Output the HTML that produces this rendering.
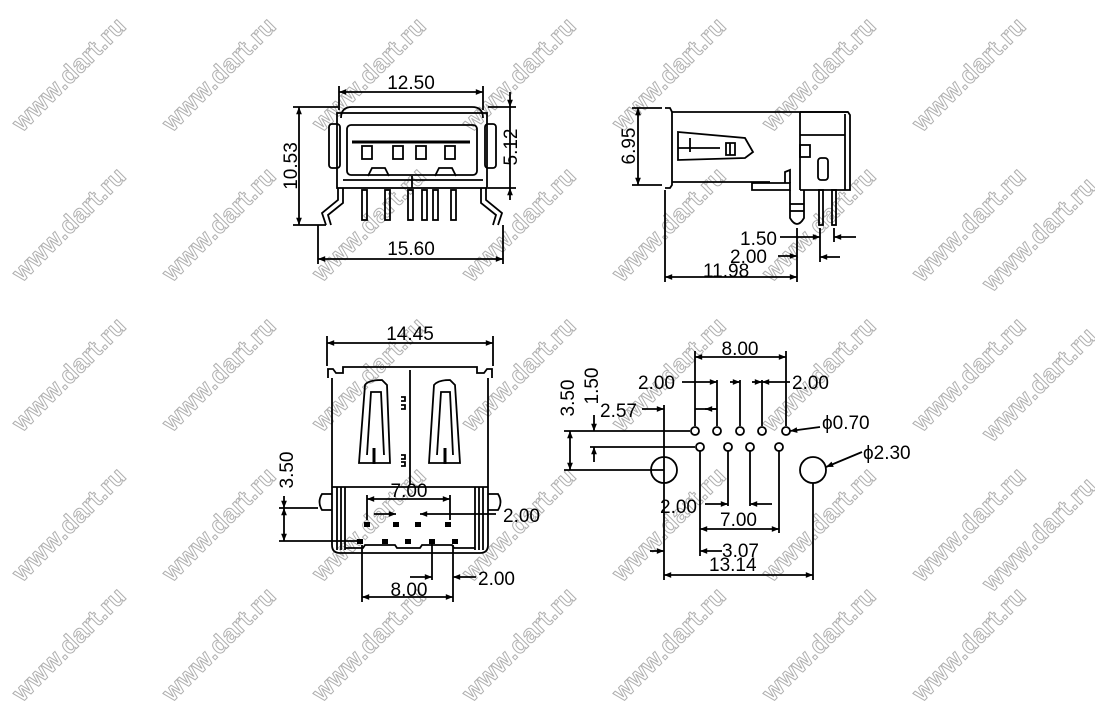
<!DOCTYPE html>
<html><head><meta charset="utf-8"><style>
html,body{margin:0;padding:0;background:#fff;width:1095px;height:701px;overflow:hidden;}
svg{display:block;overflow:hidden;}
.wm{font-family:"Liberation Sans",sans-serif;font-size:25px;font-weight:bold;fill:#fff;stroke:#b0b0b0;stroke-width:1;letter-spacing:0.5px;}
.t{font-family:"Liberation Sans",sans-serif;font-size:19px;fill:#000;}
</style></head><body>
<svg width="1095" height="701" viewBox="0 0 1095 701" xmlns="http://www.w3.org/2000/svg">
<defs>
<marker id="a" viewBox="0 0 10 10" refX="10" refY="5" markerWidth="6" markerHeight="4" orient="auto-start-reverse"><path d="M0,1 L10,5 L0,9 z" fill="#000"/></marker>
</defs>
<g class="wm" text-anchor="middle">
<text transform="translate(75,80) rotate(-45)">www.dart.ru</text>
<text transform="translate(225,80) rotate(-45)">www.dart.ru</text>
<text transform="translate(375,80) rotate(-45)">www.dart.ru</text>
<text transform="translate(525,80) rotate(-45)">www.dart.ru</text>
<text transform="translate(675,80) rotate(-45)">www.dart.ru</text>
<text transform="translate(825,80) rotate(-45)">www.dart.ru</text>
<text transform="translate(975,80) rotate(-45)">www.dart.ru</text>
<text transform="translate(75,230) rotate(-45)">www.dart.ru</text>
<text transform="translate(225,230) rotate(-45)">www.dart.ru</text>
<text transform="translate(375,230) rotate(-45)">www.dart.ru</text>
<text transform="translate(525,230) rotate(-45)">www.dart.ru</text>
<text transform="translate(675,230) rotate(-45)">www.dart.ru</text>
<text transform="translate(825,230) rotate(-45)">www.dart.ru</text>
<text transform="translate(975,230) rotate(-45)">www.dart.ru</text>
<text transform="translate(1045,240) rotate(-45)">www.dart.ru</text>
<text transform="translate(75,380) rotate(-45)">www.dart.ru</text>
<text transform="translate(225,380) rotate(-45)">www.dart.ru</text>
<text transform="translate(375,380) rotate(-45)">www.dart.ru</text>
<text transform="translate(525,380) rotate(-45)">www.dart.ru</text>
<text transform="translate(675,380) rotate(-45)">www.dart.ru</text>
<text transform="translate(825,380) rotate(-45)">www.dart.ru</text>
<text transform="translate(975,380) rotate(-45)">www.dart.ru</text>
<text transform="translate(1045,390) rotate(-45)">www.dart.ru</text>
<text transform="translate(75,530) rotate(-45)">www.dart.ru</text>
<text transform="translate(225,530) rotate(-45)">www.dart.ru</text>
<text transform="translate(375,530) rotate(-45)">www.dart.ru</text>
<text transform="translate(525,530) rotate(-45)">www.dart.ru</text>
<text transform="translate(675,530) rotate(-45)">www.dart.ru</text>
<text transform="translate(825,530) rotate(-45)">www.dart.ru</text>
<text transform="translate(975,530) rotate(-45)">www.dart.ru</text>
<text transform="translate(1045,540) rotate(-45)">www.dart.ru</text>
<text transform="translate(75,650) rotate(-45)">www.dart.ru</text>
<text transform="translate(225,650) rotate(-45)">www.dart.ru</text>
<text transform="translate(375,650) rotate(-45)">www.dart.ru</text>
<text transform="translate(525,650) rotate(-45)">www.dart.ru</text>
<text transform="translate(675,650) rotate(-45)">www.dart.ru</text>
<text transform="translate(825,650) rotate(-45)">www.dart.ru</text>
<text transform="translate(975,650) rotate(-45)">www.dart.ru</text>
</g>

<g fill="none" stroke="#000" stroke-width="1.8">
<line x1="339" y1="86" x2="339" y2="110"/><line x1="483" y1="86" x2="483" y2="110"/>
<line x1="339" y1="92" x2="483" y2="92" marker-start="url(#a)" marker-end="url(#a)"/>
<path d="M341,118 Q341,107 352,107 L472,107 Q483,107 483,118"/>
<rect x="337" y="113" width="150" height="75"/>
<rect x="329" y="124" width="11" height="44" rx="3"/>
<rect x="485" y="124" width="11" height="44" rx="3"/>
<rect x="347" y="125" width="130" height="50" rx="4"/>
<path d="M352,142 L470,142" stroke-width="3"/>
<rect x="362" y="146" width="10" height="13"/><rect x="393" y="146" width="10" height="13"/>
<rect x="416" y="146" width="10" height="13"/><rect x="445" y="146" width="10" height="13"/>
<path d="M368,176 L372,168 L385,168 L389,176"/><path d="M435,176 L439,168 L452,168 L456,176"/>
<line x1="343" y1="180" x2="483" y2="180"/>
<line x1="412" y1="176" x2="412" y2="188"/>
<rect x="362" y="190" width="5" height="30"/><rect x="385" y="190" width="5" height="30"/>
<rect x="408" y="190" width="5" height="30"/><rect x="422" y="190" width="5" height="30"/>
<rect x="433" y="190" width="5" height="30"/><rect x="451" y="190" width="5" height="30"/>
<path d="M338,188 L338,200 L322,213 L326,225"/><path d="M343,188 L343,203 L328,215 L331,225"/>
<path d="M486,188 L486,200 L502,213 L498,225"/><path d="M481,188 L481,203 L496,215 L493,225"/>
<line x1="293" y1="107" x2="338" y2="107"/><line x1="293" y1="225" x2="326" y2="225"/>
<line x1="299" y1="107" x2="299" y2="225" marker-start="url(#a)" marker-end="url(#a)"/>
<line x1="488" y1="107" x2="516" y2="107"/><line x1="488" y1="188" x2="516" y2="188"/>
<line x1="510" y1="92" x2="510" y2="107" marker-end="url(#a)"/><line x1="510" y1="107" x2="510" y2="188"/>
<line x1="510" y1="188" x2="510" y2="200" marker-start="url(#a)"/>
<line x1="318" y1="225" x2="318" y2="264"/><line x1="503" y1="225" x2="503" y2="264"/>
<line x1="318" y1="259" x2="503" y2="259" marker-start="url(#a)" marker-end="url(#a)"/>

<line x1="632" y1="108" x2="662" y2="108"/><line x1="632" y1="185" x2="662" y2="185"/>
<line x1="638" y1="108" x2="638" y2="185" marker-start="url(#a)" marker-end="url(#a)"/>
<path d="M665,108 L670,108 L672,112 L672,185 L670,188 L665,188"/>
<line x1="672" y1="112" x2="848" y2="112"/><line x1="672" y1="182" x2="770" y2="182"/>
<path d="M800,112 L848,112 L850,115 L850,190 L800,190"/>
<line x1="800" y1="112" x2="800" y2="190"/><line x1="800" y1="135" x2="845" y2="135"/>
<line x1="845" y1="114" x2="845" y2="190"/>
<rect x="800" y="145" width="10" height="12"/>
<rect x="818" y="158" width="10" height="22" rx="3"/>
<path d="M678,132 L745,138 L753,152 L745,158 L678,160 Z"/>
<line x1="678" y1="148" x2="720" y2="148"/><line x1="690" y1="138" x2="690" y2="152"/>
<path d="M726,143 L735,143 L735,155 L726,155 Z M730,143 L730,155"/>
<path d="M752,190 L790,190 L790,183 L752,183 Z"/>
<path d="M785,183 L785,172 L790,170 L790,183"/>
<path d="M790,190 L790,218 Q797,230 804,218 L804,190"/>
<line x1="790" y1="204" x2="804" y2="204"/><line x1="790" y1="211" x2="804" y2="211"/>
<rect x="819" y="190" width="4" height="35"/><rect x="832" y="190" width="4" height="35"/>
<line x1="665" y1="190" x2="665" y2="282"/><line x1="797" y1="228" x2="797" y2="282"/>
<line x1="665" y1="277" x2="797" y2="277" marker-start="url(#a)" marker-end="url(#a)"/>
<line x1="820" y1="228" x2="820" y2="262"/><line x1="834" y1="228" x2="834" y2="242"/>
<line x1="780" y1="237" x2="820" y2="237" marker-end="url(#a)"/>
<line x1="856" y1="237" x2="834" y2="237" marker-end="url(#a)"/>
<line x1="778" y1="256" x2="797" y2="256" marker-end="url(#a)"/>
<line x1="840" y1="257" x2="820" y2="257" marker-end="url(#a)"/>

<line x1="327" y1="336" x2="327" y2="366"/><line x1="493" y1="336" x2="493" y2="366"/>
<line x1="327" y1="343" x2="493" y2="343" marker-start="url(#a)" marker-end="url(#a)"/>
<path d="M328,378 L328,369 L333,369 L336,373 L343,373 L343,367 L477,367 L477,373 L484,373 L487,369 L492,369 L492,378"/>
<path d="M332,378 L332,545 Q332,553 340,553 L480,553 Q488,553 488,545 L488,378"/>
<line x1="410" y1="370" x2="410" y2="485"/>
<path d="M401,397 h4 v4 h-4 M401,405 h4 v4 h-4 M401,455 h4 v4 h-4 M401,462 h4 v4 h-4"/>
<path d="M359,463 L365,385 Q368,380 382,380 L387,385 L390,463 Z"/>
<path d="M367,455 L371,392 L381,392 L384,455"/>
<line x1="374" y1="448" x2="374" y2="464" stroke-width="3"/>
<path d="M429,463 L434,385 Q438,380 450,380 L455,385 L460,463 Z"/>
<path d="M437,455 L441,392 L450,392 L453,455"/>
<line x1="445" y1="448" x2="445" y2="464" stroke-width="3"/>
<line x1="332" y1="487" x2="488" y2="487"/>
<line x1="337" y1="487" x2="337" y2="550"/><line x1="341" y1="487" x2="341" y2="550"/><line x1="345" y1="487" x2="345" y2="550"/>
<line x1="475" y1="487" x2="475" y2="550"/><line x1="479" y1="487" x2="479" y2="550"/><line x1="483" y1="487" x2="483" y2="550"/>
<path d="M332,494 L322,494 Q317,502 322,510 L332,510"/>
<path d="M488,494 L498,494 Q503,502 498,510 L488,510"/>
<path d="M345,548 L363,548 L365,545 L395,545 L397,548 L420,548 L422,545 L452,545 L454,548 L475,548"/>
<line x1="279" y1="508" x2="318" y2="508"/><line x1="279" y1="541" x2="360" y2="541"/>
<line x1="284" y1="496" x2="284" y2="508" marker-end="url(#a)"/>
<line x1="284" y1="508" x2="284" y2="541" marker-start="url(#a)" marker-end="url(#a)"/>
<line x1="367" y1="495" x2="367" y2="520"/><line x1="450" y1="495" x2="450" y2="520"/>
<line x1="367" y1="499" x2="450" y2="499" marker-start="url(#a)" marker-end="url(#a)"/>
<line x1="374" y1="514" x2="396" y2="514" marker-end="url(#a)"/>
<line x1="496" y1="514" x2="420" y2="514" marker-end="url(#a)"/>
<line x1="362" y1="545" x2="362" y2="602"/><line x1="453" y1="545" x2="453" y2="602"/>
<line x1="362" y1="597" x2="453" y2="597" marker-start="url(#a)" marker-end="url(#a)"/>
<line x1="432" y1="541" x2="432" y2="580"/>
<line x1="410" y1="577" x2="432" y2="577" marker-end="url(#a)"/>
<line x1="476" y1="577" x2="453" y2="577" marker-end="url(#a)"/>

<line x1="695" y1="351" x2="695" y2="426"/><line x1="786" y1="351" x2="786" y2="426"/>
<line x1="695" y1="357" x2="786" y2="357" marker-start="url(#a)" marker-end="url(#a)"/>
<line x1="717" y1="380" x2="717" y2="426"/><line x1="740" y1="380" x2="740" y2="426"/><line x1="762" y1="380" x2="762" y2="426"/>
<line x1="682" y1="382" x2="717" y2="382" marker-end="url(#a)"/>
<line x1="730" y1="382" x2="740" y2="382" marker-end="url(#a)"/>
<line x1="752" y1="382" x2="762" y2="382" marker-end="url(#a)"/>
<line x1="790" y1="382" x2="762" y2="382" marker-end="url(#a)"/>
<line x1="695" y1="409" x2="717" y2="409"/>
<line x1="705" y1="409" x2="717" y2="409" marker-start="url(#a)"/>
<circle cx="695" cy="431" r="4"/><circle cx="717" cy="431" r="4"/><circle cx="740" cy="431" r="4"/><circle cx="762" cy="431" r="4"/><circle cx="786" cy="431" r="4"/>
<circle cx="700" cy="447" r="4"/><circle cx="728" cy="447" r="4"/><circle cx="750" cy="447" r="4"/><circle cx="779" cy="447" r="4"/>
<circle cx="664" cy="470" r="13"/><circle cx="813" cy="470" r="13"/>
<line x1="564" y1="431" x2="690" y2="431"/><line x1="590" y1="447" x2="695" y2="447"/><line x1="564" y1="470" x2="664" y2="470"/>
<line x1="570" y1="431" x2="570" y2="470" marker-start="url(#a)" marker-end="url(#a)"/>
<line x1="594" y1="415" x2="594" y2="431" marker-end="url(#a)"/>
<line x1="594" y1="447" x2="594" y2="462" marker-start="url(#a)"/>
<line x1="642" y1="409" x2="664" y2="409" marker-end="url(#a)"/>
<line x1="664" y1="405" x2="664" y2="580"/><line x1="813" y1="483" x2="813" y2="580"/>
<line x1="700" y1="451" x2="700" y2="556"/><line x1="728" y1="451" x2="728" y2="506"/>
<line x1="750" y1="451" x2="750" y2="506"/><line x1="779" y1="451" x2="779" y2="533"/>
<line x1="705" y1="504" x2="728" y2="504" marker-end="url(#a)"/>
<line x1="772" y1="504" x2="750" y2="504" marker-end="url(#a)"/>
<line x1="700" y1="529" x2="779" y2="529" marker-start="url(#a)" marker-end="url(#a)"/>
<line x1="650" y1="551" x2="664" y2="551" marker-end="url(#a)"/>
<line x1="700" y1="551" x2="722" y2="551" marker-start="url(#a)"/>
<line x1="664" y1="575" x2="813" y2="575" marker-start="url(#a)" marker-end="url(#a)"/>
<line x1="820" y1="427" x2="790" y2="431" marker-end="url(#a)"/>
<line x1="862" y1="452" x2="826" y2="467" marker-end="url(#a)"/>
</g>
<g fill="#000">
<rect x="364" y="522" width="6" height="5"/><rect x="393" y="522" width="6" height="5"/><rect x="415" y="522" width="6" height="5"/><rect x="445" y="522" width="6" height="5"/>
<rect x="357" y="539" width="6" height="5"/><rect x="382" y="539" width="6" height="5"/><rect x="405" y="539" width="6" height="5"/><rect x="429" y="539" width="6" height="5"/><rect x="452" y="539" width="6" height="5"/>
</g>

<g class="t">
<text x="411" y="89" text-anchor="middle">12.50</text>
<text transform="translate(297,166) rotate(-90)" text-anchor="middle">10.53</text>
<text transform="translate(517,147) rotate(-90)" text-anchor="middle">5.12</text>
<text x="411" y="255" text-anchor="middle">15.60</text>
<text transform="translate(635,146) rotate(-90)" text-anchor="middle">6.95</text>
<text x="740" y="245">1.50</text>
<text x="730" y="263">2.00</text>
<text x="703" y="277">11.98</text>
<text x="410" y="340" text-anchor="middle">14.45</text>
<text transform="translate(293,470) rotate(-90)" text-anchor="middle">3.50</text>
<text x="409" y="497" text-anchor="middle">7.00</text>
<text x="503" y="522">2.00</text>
<text x="409" y="596" text-anchor="middle">8.00</text>
<text x="478" y="585">2.00</text>
<text x="740" y="355" text-anchor="middle">8.00</text>
<text x="638" y="389">2.00</text>
<text x="792" y="389">2.00</text>
<text transform="translate(574,398) rotate(-90)" text-anchor="middle">3.50</text>
<text transform="translate(598,386) rotate(-90)" text-anchor="middle">1.50</text>
<text x="600" y="417">2.57</text>
<text x="822" y="429">ϕ0.70</text>
<text x="863" y="459">ϕ2.30</text>
<text x="660" y="513">2.00</text>
<text x="720" y="526">7.00</text>
<text x="722" y="557">3.07</text>
<text x="709" y="571">13.14</text>
</g>
</svg>
</body></html>
